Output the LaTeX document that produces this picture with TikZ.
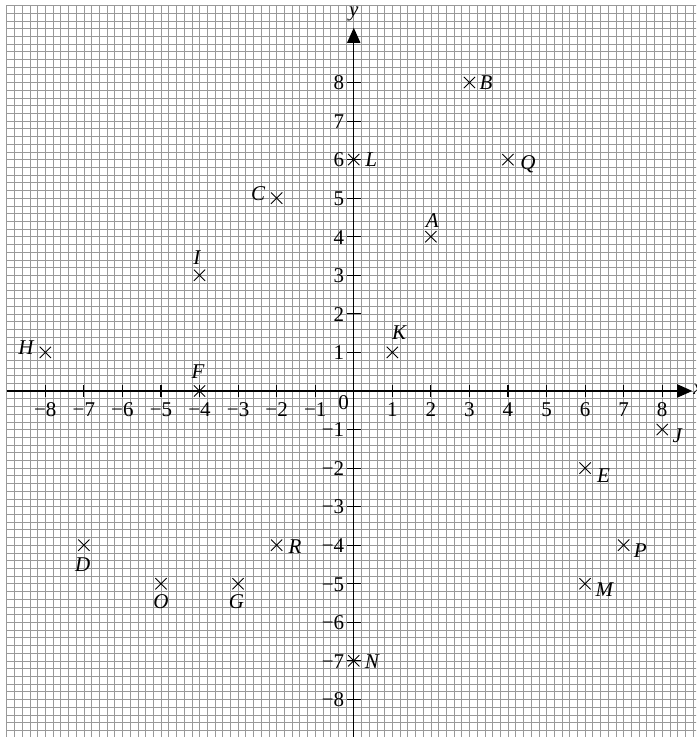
\documentclass[tikz,border=0pt]{standalone}
\usepackage{fontspec}
\setmainfont{Liberation Serif}
\usetikzlibrary{arrows.meta,shapes.misc}
\begin{document}
\begin{tikzpicture}[x=1cm,y=1cm,
  gridline/.style={black!40, line width=0.45pt},
  axis/.style={line width=1pt, -{Triangle[length=0.39cm,width=0.34cm]}},
  tickmark/.style={line width=0.8pt},
  pt/.style={cross out, draw, line width=0.65pt, minimum size=0.27cm, inner sep=0pt},
  lbl/.style={font=\fontsize{15.5}{18}\selectfont\itshape, inner sep=0pt},
  num/.style={font=\fontsize{15.5}{18}\selectfont, inner sep=0pt}]
\useasboundingbox (-9.175,-8.975) rectangle (8.88,10.14);
\begin{scope}
\clip (-9.175,-8.975) rectangle (8.88,10.14);
\foreach \i in {0,...,90} \draw[gridline] ({-9+\i*0.2},-9.2) -- ({-9+\i*0.2},10);
\foreach \j in {0,...,95} \draw[gridline] (-9,{-9+\j*0.2}) -- (9.2,{-9+\j*0.2});
\end{scope}
% axes
\coordinate (xl) at (-9,0);
\coordinate (xr) at (8.78,0);
\coordinate (yb) at (0,-8.975);
\coordinate (yt) at (0,9.42);
\draw[axis] (xl) -- (xr);
\draw[axis] (yb) -- (yt);
\node[lbl, anchor=base] (ylab) at (0,9.72) {y};
\node[lbl, anchor=base west] (xlab) at (8.8,-0.08) {x};
% ticks
\foreach \k in {-8,...,-1,1,2,...,8} {
  \draw[tickmark] (\k,-0.15) -- (\k,0.15);
  \node[num, anchor=base] (xt\k) at (\k,-0.675) {\ifnum\k<0 −\number-\k\else\k\fi};
  \draw[tickmark] (-0.18,\k) -- (0.19,\k);
  \node[num, anchor=base east] (yt\k) at (-0.24,\k-0.19) {\ifnum\k<0 −\number-\k\else\k\fi};
}
\node[num, anchor=base east] (o) at (-0.12,-0.49) {0};
% points
\foreach \n/\x/\y/\dx/\dy in {
  A/2/4/0.04/0.42, B/3/8/0.43/0, C/-2/5/-0.48/0.12, D/-7/-4/-0.03/-0.5,
  E/6/-2/0.48/-0.2, F/-4/0/-0.04/0.5, G/-3/-5/-0.04/-0.47, H/-8/1/-0.5/0.13,
  I/-4/3/-0.07/0.47, J/8/-1/0.39/-0.15, K/1/1/0.18/0.52, L/0/6/0.45/0,
  M/6/-5/0.5/-0.15, N/0/-7/0.47/-0.03, O/-5/-5/0/-0.46, P/7/-4/0.43/-0.15,
  Q/4/6/0.52/-0.13, R/-2/-4/0.48/-0.05} {
  \node[pt] (\n) at (\x,\y) {};
  \node[lbl] (l\n) at ([shift={(\dx,\dy)}]\n.center) {\n};
}
\end{tikzpicture}
\end{document}
